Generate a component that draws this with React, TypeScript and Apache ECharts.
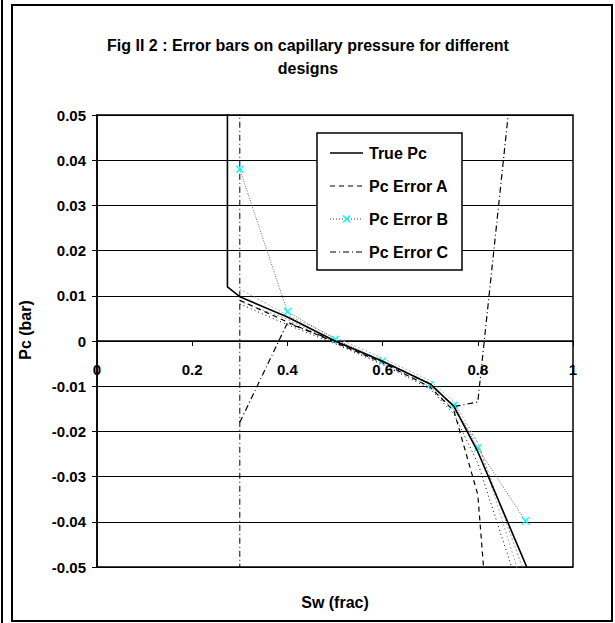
import React, { useEffect, useRef } from "react";
import * as echarts from "echarts";

// ---- data ----
const legendNames = ["True Pc", "Pc Error A", "Pc Error B", "Pc Error C"];

const swTrue = [0.274, 0.274, 0.3, 0.4, 0.5, 0.6, 0.7, 0.75, 0.8, 0.9, 0.95];
const pcTrue = [0.06, 0.012, 0.0098, 0.0053, 0.0, -0.0045, -0.0095, -0.0145, -0.0245, -0.0493, -0.062];

const swErr = [0.3, 0.4, 0.5, 0.6, 0.7, 0.75, 0.8, 0.9];
const pcErrorA = [0.009, 0.0042, -0.0003, -0.0048, -0.0102, -0.0155, -0.034, -0.167];
const pcErrorB = [0.038, 0.0065, 0.0004, -0.0044, -0.0097, -0.0142, -0.0237, -0.0398];
const pcErrorC = [-0.018, 0.004, 0.0, -0.0045, -0.0095, -0.0145, -0.0135, 0.086];

// error envelopes (no legend entry)
const boundLow = [0.0082, 0.0036, -0.0006, -0.0052, -0.0106, -0.0162, -0.027, -0.0594];
const boundMid = [0.0115, 0.0057, 0.0008, -0.0038, -0.0088, -0.0134, -0.0225, -0.056];
const boundHigh = [0.0088, 0.0048, -0.0004, -0.005, -0.0101, -0.0152, -0.0225, -0.052];

// error bar of design C at Sw = 0.3 (spans whole range)
const errBarCx = [0.3, 0.3];
const errBarCy = [0.06, -0.06];

const xMin = 0, xMax = 1, xStep = 0.2;
const yMin = -0.05, yMax = 0.05, yStep = 0.01;

const FONT = '"Liberation Sans", Arial, sans-serif';
const pairs = (xs: number[], ys: number[]) => xs.map((x, i) => [x, ys[i]]);
const XMARK = "path://M0,1.2L1.2,0L5,3.8L8.8,0L10,1.2L6.2,5L10,8.8L8.8,10L5,6.2L1.2,10L0,8.8L3.8,5Z";

const GRID_TOP = 115;
const GRID_H = 452;

export default function App() {
  const ref = useRef<HTMLDivElement>(null);
  useEffect(() => {
    if (!ref.current) return;
    const chart = echarts.init(ref.current, null, { renderer: "svg" });
    const lineSeries = (name: string, data: number[][], lineStyle: any, z = 2) => ({
      name,
      type: "line",
      data,
      symbol: "none",
      lineStyle,
      z,
      silent: true,
    });
    const legendY = [153, 186, 219, 252];
    const legendStyles: any[] = [
      { stroke: "#000", lineWidth: 1.6 },
      { stroke: "#000", lineWidth: 1, lineDash: [5, 4] },
      { stroke: "#333", lineWidth: 1, lineDash: [1, 2] },
      { stroke: "#000", lineWidth: 1, lineDash: [6, 3, 1, 3] },
    ];
    const graphic: any[] = [
      // outer frames
      { type: "line", shape: { x1: 2, y1: 0, x2: 2, y2: 623 }, style: { stroke: "#000", lineWidth: 2 } },
      { type: "rect", shape: { x: 12, y: 5, width: 600, height: 616 }, style: { fill: "none", stroke: "#000", lineWidth: 2 } },
      // title
      { type: "text", x: 308, y: 45, style: { text: "Fig II 2 : Error bars on capillary pressure for different", font: `bold 16px ${FONT}`, fill: "#000", textAlign: "center", textVerticalAlign: "middle" } },
      { type: "text", x: 308, y: 68, style: { text: "designs", font: `bold 16px ${FONT}`, fill: "#000", textAlign: "center", textVerticalAlign: "middle" } },
      // axis titles
      { type: "text", x: 335, y: 602, style: { text: "Sw (frac)", font: `bold 16px ${FONT}`, fill: "#000", textAlign: "center", textVerticalAlign: "middle" } },
      { type: "text", x: 25, y: 330, rotation: Math.PI / 2, style: { text: "Pc (bar)", font: `bold 16px ${FONT}`, fill: "#000", textAlign: "center", textVerticalAlign: "middle" } },
      // legend box
      { type: "rect", z: 10, shape: { x: 317, y: 133, width: 145, height: 137 }, style: { fill: "#fff", stroke: "#000", lineWidth: 1.5 } },
    ];
    legendNames.forEach((n, i) => {
      graphic.push({ type: "line", z: 11, shape: { x1: 330, y1: legendY[i], x2: 363, y2: legendY[i] }, style: { ...legendStyles[i], fill: "none" } });
      graphic.push({ type: "text", z: 11, x: 369, y: legendY[i], style: { text: n, font: `bold 16px ${FONT}`, fill: "#000", textAlign: "left", textVerticalAlign: "middle" } });
    });
    graphic.push({ type: "line", z: 12, shape: { x1: 343, y1: 215.5, x2: 350, y2: 222.5 }, style: { stroke: "#00FFFF", lineWidth: 1.6 } });
    graphic.push({ type: "line", z: 12, shape: { x1: 350, y1: 215.5, x2: 343, y2: 222.5 }, style: { stroke: "#00FFFF", lineWidth: 1.6 } });

    // x axis crosses the y axis at Pc = 0
    const zeroOffset = -GRID_H * (0 - yMin) / (yMax - yMin);

    const option: any = {
      animation: false,
      textStyle: { fontFamily: FONT },
      grid: { left: 97, top: GRID_TOP, width: 476, height: GRID_H, show: true, borderColor: "#000", borderWidth: 1.5 },
      xAxis: {
        type: "value", min: xMin, max: xMax, interval: xStep,
        position: "bottom", offset: zeroOffset,
        axisLine: { show: true, onZero: false, lineStyle: { color: "#000", width: 1.5 } },
        axisTick: { show: true, length: 5, lineStyle: { color: "#000", width: 1 } },
        axisLabel: { margin: 21, color: "#000", fontWeight: "bold", fontSize: 15, fontFamily: FONT, formatter: (v: number) => String(Math.round(v * 10) / 10) },
        splitLine: { show: false },
      },
      yAxis: {
        type: "value", min: yMin, max: yMax, interval: yStep,
        axisLine: { show: true, onZero: false, lineStyle: { color: "#000", width: 1.5 } },
        axisTick: { show: true, length: 5, lineStyle: { color: "#000", width: 1 } },
        axisLabel: { margin: 11, color: "#000", fontWeight: "bold", fontSize: 15, fontFamily: FONT, formatter: (v: number) => { const r = Math.round(v * 100) / 100; return r === 0 ? "0" : String(r); } },
        splitLine: { show: true, lineStyle: { color: "#000", width: 1.2 } },
      },
      series: [
        lineSeries("C error bar", pairs(errBarCx, errBarCy), { color: "#000", width: 1, type: [6, 3, 1, 3] }),
        lineSeries("bound high", pairs(swErr, boundHigh), { color: "#999", width: 1, type: [2, 2] }),
        lineSeries("bound mid", pairs(swErr, boundMid), { color: "#aaa", width: 1, type: [2, 2] }),
        lineSeries("bound low", pairs(swErr, boundLow), { color: "#000", width: 1, type: [1, 3] }),
        lineSeries(legendNames[1], pairs(swErr, pcErrorA), { color: "#000", width: 1.2, type: [5, 4] }),
        lineSeries(legendNames[3], pairs(swErr, pcErrorC), { color: "#000", width: 1.2, type: [6, 3, 1, 3] }),
        {
          name: legendNames[2], type: "line", data: pairs(swErr, pcErrorB), z: 4,
          symbol: XMARK, symbolSize: 8, showSymbol: true,
          itemStyle: { color: "#00FFFF" },
          lineStyle: { color: "#666", width: 1, type: [1, 1.5] },
        },
        lineSeries(legendNames[0], pairs(swTrue, pcTrue), { color: "#000", width: 1.6, type: "solid" }, 5),
      ],
      graphic,
    };
    chart.setOption(option);
    return () => chart.dispose();
  }, []);
  return <div ref={ref} style={{ position: "absolute", left: 0, top: 0, width: 615, height: 623, background: "#fff" }} />;
}
